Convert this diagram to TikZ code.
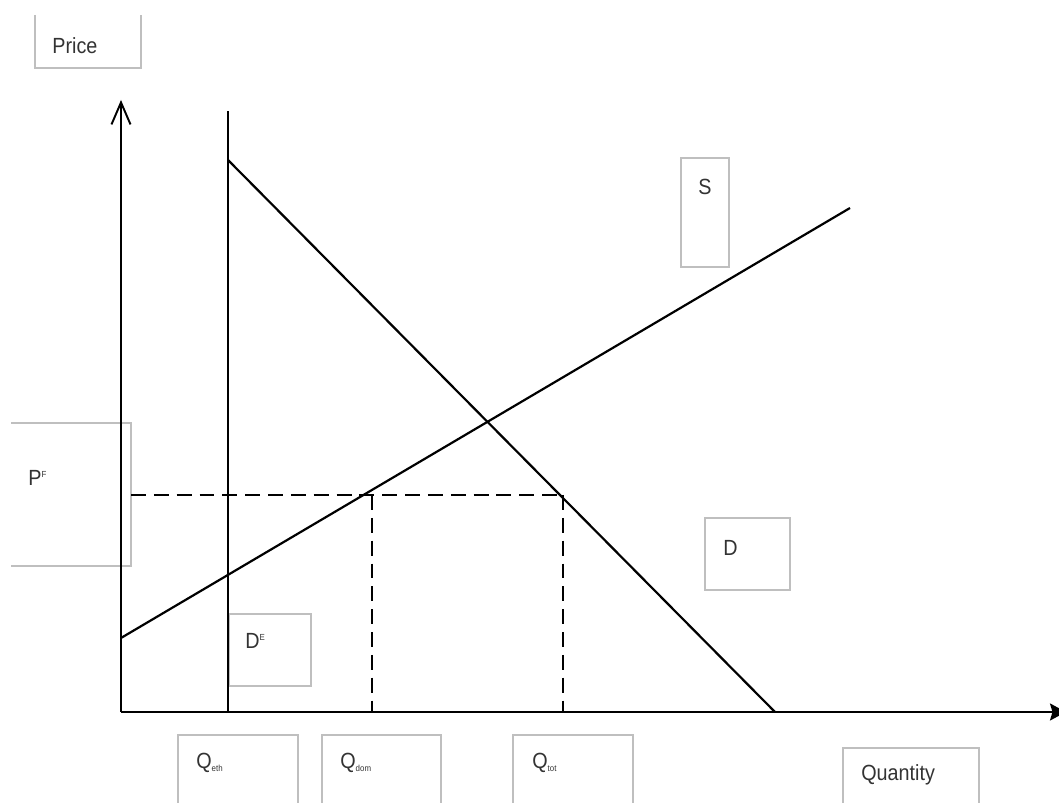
\documentclass[tikz,border=0pt]{standalone}
\usepackage{fontspec}
\setmainfont{Liberation Sans}[FakeStretch=0.9]
\usetikzlibrary{arrows.meta}
\begin{document}
\begin{tikzpicture}[x=0.02cm,y=-0.02cm,
  curve/.style={line width=1.25pt,black},
  guide/.style={line width=1.05pt,black,dash pattern=on 8.5pt off 4.5pt},
  frame/.style={line width=0.65pt,draw=black!25},
  lbl/.style={anchor=west,inner sep=0pt,text=black!80,font=\fontsize{12.5}{14}\selectfont}]
\clip (0,0) rectangle (1059,803);
% coordinates
\coordinate (O) at (121,712);
\coordinate (ytop) at (121,100);
\coordinate (xend) at (1066,712);
\coordinate (DEtop) at (228,111);
\coordinate (DEbot) at (228,712);
\coordinate (Dtop) at (228,160);
\coordinate (Dbot) at (775,712);
\coordinate (Sbot) at (121,638);
\coordinate (Stop) at (850,208);
\coordinate (PF) at (131,495);
\coordinate (A) at (372,495);
\coordinate (B) at (563,495);
\coordinate (Abot) at (372,712);
\coordinate (Bbot) at (563,712);
% label frames
\draw[frame] (35,15) -- (35,68) -- (141,68) -- (141,15);
\draw[frame] (681,158) rectangle (729,267);
\draw[frame] (11,423) -- (131,423) -- (131,566) -- (11,566);
\draw[frame] (705,518) rectangle (790,590);
\draw[frame] (229,614) rectangle (311,686);
\draw[frame] (178,810) -- (178,735) -- (298,735) -- (298,810);
\draw[frame] (322,810) -- (322,735) -- (441,735) -- (441,810);
\draw[frame] (513,810) -- (513,735) -- (633,735) -- (633,810);
\draw[frame] (843,810) -- (843,748) -- (979,748) -- (979,810);
% axes
\draw[curve,-{Straight Barb[length=0.44cm,width=0.38cm,line width=1.1pt]}] (O) -- (ytop);
\draw[curve,-{Stealth[length=0.32cm,width=0.34cm,inset=0.05cm]}] (O) -- (xend);
% curves
\draw[curve] (DEbot) -- (DEtop);
\draw[curve] (Dtop) -- (Dbot);
\draw[curve] (Sbot) -- (Stop);
% dashed guides
\draw[guide] (PF) -- (A) -- (B);
\draw[guide] (A) -- (Abot);
\draw[guide] (B) -- (Bbot);
% labels
\node[lbl] (price) at (52,46) {Price};
\node[lbl] (slbl) at (698,187) {S};
\node[lbl] (pflbl) at (28,478) {P\textsuperscript{\tiny F}};
\node[lbl] (dlbl) at (723,548) {D};
\node[lbl] (delbl) at (245,641) {D\textsuperscript{\tiny E}};
\node[lbl] (qeth) at (196,763) {Q\textsubscript{\tiny eth}};
\node[lbl] (qdom) at (340,763) {Q\textsubscript{\tiny dom}};
\node[lbl] (qtot) at (532,763) {Q\textsubscript{\tiny tot}};
\node[lbl] (qty) at (861,775) {Quantity};
\end{tikzpicture}
\end{document}
